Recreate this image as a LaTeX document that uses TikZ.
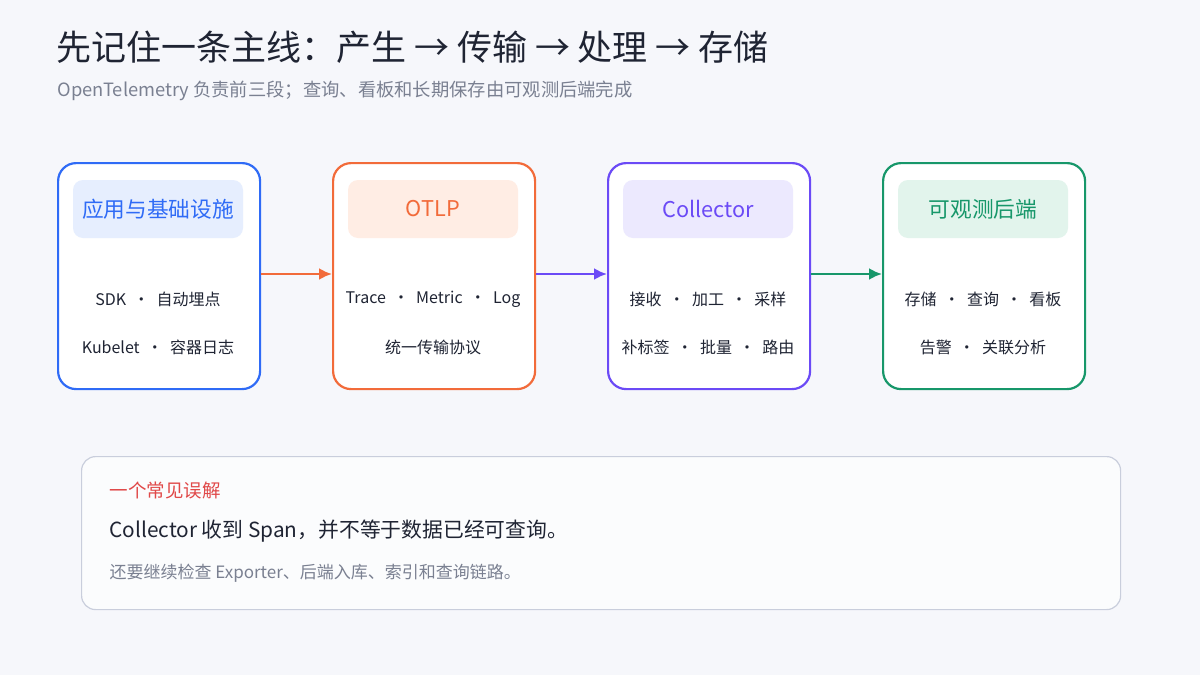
\documentclass[tikz,border=0pt]{standalone}
\usepackage{fontspec}
\setmainfont{Noto Sans CJK SC}
\usepackage{tikz}
\usetikzlibrary{positioning}
\usetikzlibrary{arrows.meta}
\definecolor{bg}{HTML}{F6F7FB}
\definecolor{ink}{HTML}{1F2433}
\definecolor{mute}{HTML}{7A8091}
\definecolor{cblue}{HTML}{2F6BF6}
\definecolor{corange}{HTML}{F26B3A}
\definecolor{cpurple}{HTML}{6B4AF6}
\definecolor{cgreen}{HTML}{17976A}
\definecolor{fblue}{HTML}{E6EEFE}
\definecolor{forange}{HTML}{FFEDE4}
\definecolor{fpurple}{HTML}{ECE9FE}
\definecolor{fgreen}{HTML}{E2F4EC}
\definecolor{cred}{HTML}{E04848}
\definecolor{frame}{HTML}{C9CEDC}

\begin{document}
\begin{tikzpicture}
  [
    x=1pt, y=-1pt,
    stage/.style={
       draw, line width=2.2pt, fill=white, rounded corners=18pt,
       minimum width=202pt, minimum height=226pt, anchor=north west
    },
    tag/.style={
       rounded corners=10pt, minimum width=170pt, minimum height=58pt,
       font=\fontsize{21.7}{26}\selectfont
    },
    item/.style={
       text=ink, font=\fontsize{16}{19}\selectfont
    },
    flow/.style={
       line width=2.4pt, -{Latex[length=13pt,width=12pt]}
    }
  ]
  \fill [bg] (0,0) rectangle (1200,675);

  \node (title) [anchor=west, text=ink, font=\fontsize{35}{40}\selectfont]
    at (53,47) {先记住一条主线：产生 → 传输 → 处理 → 存储};
  \node (sub) [anchor=west, text=mute, font=\fontsize{18.3}{22}\selectfont]
    at (54,91) {OpenTelemetry 负责前三段；查询、看板和长期保存由可观测后端完成};

  % stages
  \node (s1) [stage, draw=cblue]   at ( 57,162) {};
  \node (s2) [stage, draw=corange] at (332,162) {};
  \node (s3) [stage, draw=cpurple] at (607,162) {};
  \node (s4) [stage, draw=cgreen]  at (882,162) {};

  \node (t1) [tag, fill=fblue,   text=cblue]   at (158,209) {应用与基础设施};
  \node (t2) [tag, fill=forange, text=corange] at (433,209) {OTLP};
  \node (t3) [tag, fill=fpurple, text=cpurple] at (708,209) {Collector};
  \node (t4) [tag, fill=fgreen,  text=cgreen]  at (983,209) {可观测后端};

  \node (a1) [item] at (158,299) {SDK\ \ ·\ \ 自动埋点};
  \node (b1) [item] at (158,347) {Kubelet\ \ ·\ \ 容器日志};
  \node (a2) [item] at (433,299) {Trace\ \ ·\ \ Metric\ \ ·\ \ Log};
  \node (b2) [item] at (433,347) {统一传输协议};
  \node (a3) [item] at (708,299) {接收\ \ ·\ \ 加工\ \ ·\ \ 采样};
  \node (b3) [item] at (708,347) {补标签\ \ ·\ \ 批量\ \ ·\ \ 路由};
  \node (a4) [item] at (983,299) {存储\ \ ·\ \ 查询\ \ ·\ \ 看板};
  \node (b4) [item] at (983,347) {告警\ \ ·\ \ 关联分析};

  \draw [flow, corange] (s1.east |- 0,274) -- (s2.west |- 0,274);
  \draw [flow, cpurple] (s2.east |- 0,274) -- (s3.west |- 0,274);
  \draw [flow, cgreen]  (s3.east |- 0,274) -- (s4.west |- 0,274);

  % note
  \node (note) [draw=frame, line width=1.2pt, fill=white!60!bg, rounded corners=14pt,
    minimum width=1039pt, minimum height=153pt, anchor=north west] at (81,456) {};
  \node (n1) [anchor=west, text=cred, font=\fontsize{18.5}{22}\selectfont]
    at (106,490) {一个常见误解};
  \node (n2) [anchor=west, text=ink, font=\fontsize{20.8}{25}\selectfont]
    at (106,531) {Collector 收到 Span，并不等于数据已经可查询。};
  \node (n3) [anchor=west, text=mute, font=\fontsize{17}{20}\selectfont]
    at (106,573) {还要继续检查 Exporter、后端入库、索引和查询链路。};
\end{tikzpicture}
\end{document}
